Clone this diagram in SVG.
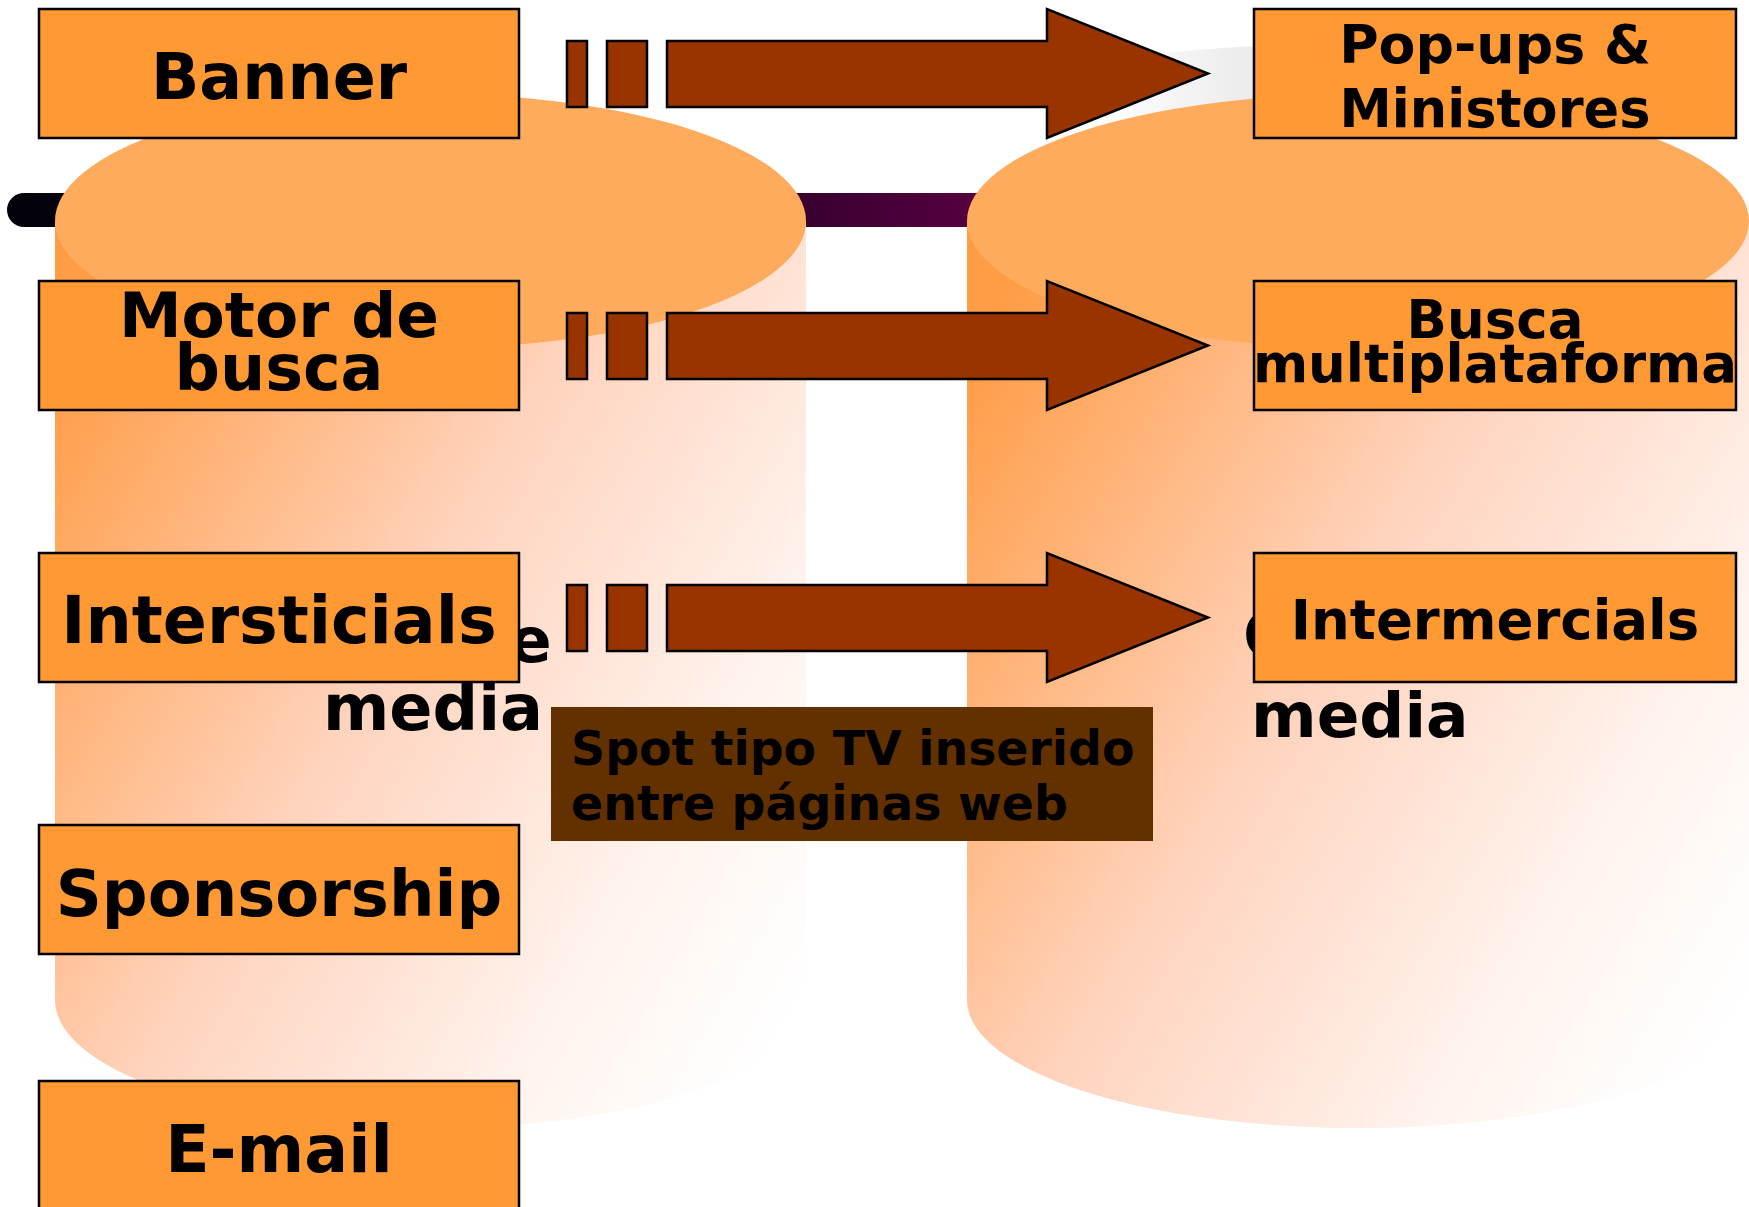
<svg xmlns="http://www.w3.org/2000/svg" width="1749" height="1207" viewBox="0 0 1749 1207">
  <defs>
    <linearGradient id="barGrad" gradientUnits="userSpaceOnUse" x1="7" y1="0" x2="967" y2="0">
      <stop offset="0" stop-color="#02020a"/>
      <stop offset="0.75" stop-color="#2a0028"/>
      <stop offset="1" stop-color="#55003f"/>
    </linearGradient>
    <linearGradient id="bodyGrad" x1="0" y1="0.15" x2="1" y2="0.85">
      <stop offset="0" stop-color="#ff9c46"/>
      <stop offset="0.45" stop-color="#ffd3bd"/>
      <stop offset="0.8" stop-color="#fff4ef"/>
      <stop offset="1" stop-color="#ffffff"/>
    </linearGradient>
    <linearGradient id="haloGrad" gradientUnits="userSpaceOnUse" x1="1100" y1="0" x2="1500" y2="0">
      <stop offset="0" stop-color="#ffffff"/>
      <stop offset="0.38" stop-color="#ebebeb"/>
      <stop offset="0.7" stop-color="#fafafa"/>
      <stop offset="1" stop-color="#ffffff"/>
    </linearGradient>
    <style>
      .box { fill: #ff9933; stroke: #000; stroke-width: 2.5; }
      .arrow { fill: #993300; stroke: #000; stroke-width: 2.5; stroke-linejoin: miter; }
      .lbl { font-family: "DejaVu Sans", Verdana, sans-serif; font-weight: bold; fill: #000; text-anchor: middle; }
      .free { font-family: "DejaVu Sans", Verdana, sans-serif; font-weight: bold; fill: #000; }
      .top { fill: #ffab5d; }
      .body { fill: url(#bodyGrad); }
    </style>
  </defs>

  <rect width="1749" height="1207" fill="#ffffff"/>

  <!-- faint halo behind right cylinder -->
  <ellipse cx="1400" cy="230" rx="700" ry="188" fill="url(#haloGrad)"/>

  <!-- background bar -->
  <rect x="7" y="193" width="1000" height="34" rx="17" ry="17" fill="url(#barGrad)"/>

  <!-- left cylinder -->
  <g id="cylinder-left">
    <path class="body" d="M55,221 L806,221 L806,1000 A375.5,128 0 0 1 55,1000 Z"/>
    <ellipse class="top" cx="430.5" cy="221" rx="375.5" ry="127"/>
  </g>

  <!-- right cylinder -->
  <g id="cylinder-right">
    <path class="body" d="M967,221 L1749,221 L1749,1000 A391,128 0 0 1 967,1000 Z"/>
    <ellipse class="top" cx="1358" cy="221" rx="391" ry="127"/>
  </g>

  <!-- partially hidden cylinder labels -->
  <g id="cyl-labels">
    <text class="free" font-size="63" x="509" y="662">e</text>
    <text class="free" font-size="63.7" x="323" y="730">media</text>
    <text class="free" font-size="63" x="1243" y="657">O</text>
    <text class="free" font-size="63" x="1251" y="737">media</text>
  </g>

  <!-- connectors -->
  <g id="connectors">
    <g id="arrow1">
      <rect class="arrow" x="567" y="41" width="20" height="66"/>
      <rect class="arrow" x="607" y="41" width="40" height="66"/>
      <polygon class="arrow" points="667,41 1047,41 1047,9 1208,73.5 1047,138 1047,107 667,107"/>
    </g>
    <g id="arrow2">
      <rect class="arrow" x="567" y="313" width="20" height="66"/>
      <rect class="arrow" x="607" y="313" width="40" height="66"/>
      <polygon class="arrow" points="667,313 1047,313 1047,281 1208,345.5 1047,410 1047,379 667,379"/>
    </g>
    <g id="arrow3">
      <rect class="arrow" x="567" y="585" width="20" height="66"/>
      <rect class="arrow" x="607" y="585" width="40" height="66"/>
      <polygon class="arrow" points="667,585 1047,585 1047,553 1208,617.5 1047,682 1047,651 667,651"/>
    </g>
  </g>

  <!-- left nodes -->
  <g id="banner">
    <rect class="box" x="39" y="9" width="480" height="129"/>
    <text class="lbl" font-size="63.5" x="279" y="99">Banner</text>
  </g>
  <g id="motor-de-busca">
    <rect class="box" x="39" y="281" width="480" height="129"/>
    <text class="lbl" font-size="63" x="279" y="337">Motor de</text>
    <text class="lbl" font-size="63.5" x="279" y="390">busca</text>
  </g>
  <g id="intersticials">
    <rect class="box" x="39" y="553" width="480" height="129"/>
    <text class="lbl" font-size="65" x="279" y="643">Intersticials</text>
  </g>
  <g id="sponsorship">
    <rect class="box" x="39" y="825" width="480" height="129"/>
    <text class="lbl" font-size="64" x="279" y="916">Sponsorship</text>
  </g>
  <g id="email">
    <rect class="box" x="39" y="1081" width="480" height="140"/>
    <text class="lbl" font-size="65" x="279" y="1172">E-mail</text>
  </g>

  <!-- right nodes -->
  <g id="popups">
    <rect class="box" x="1254" y="9" width="482" height="129"/>
    <text class="lbl" font-size="53.8" x="1495" y="63">Pop-ups &amp;</text>
    <text class="lbl" font-size="52.5" x="1495" y="127">Ministores</text>
  </g>
  <g id="busca-multi">
    <rect class="box" x="1254" y="281" width="482" height="129"/>
    <text class="lbl" font-size="53" x="1495" y="338">Busca</text>
    <text class="lbl" font-size="53" x="1495" y="382">multiplataforma</text>
  </g>
  <g id="intermercials">
    <rect class="box" x="1254" y="553" width="482" height="129"/>
    <text class="lbl" font-size="54.5" x="1495" y="639">Intermercials</text>
  </g>

  <!-- note box -->
  <g id="spot-note">
    <rect x="551" y="707" width="602" height="134" fill="#633100"/>
    <text font-family="DejaVu Sans, Verdana, sans-serif" font-weight="bold" font-size="47.4" fill="#000">
      <tspan x="571" y="765">Spot tipo TV inserido</tspan>
      <tspan x="571" y="820">entre páginas web</tspan>
    </text>
  </g>
</svg>
